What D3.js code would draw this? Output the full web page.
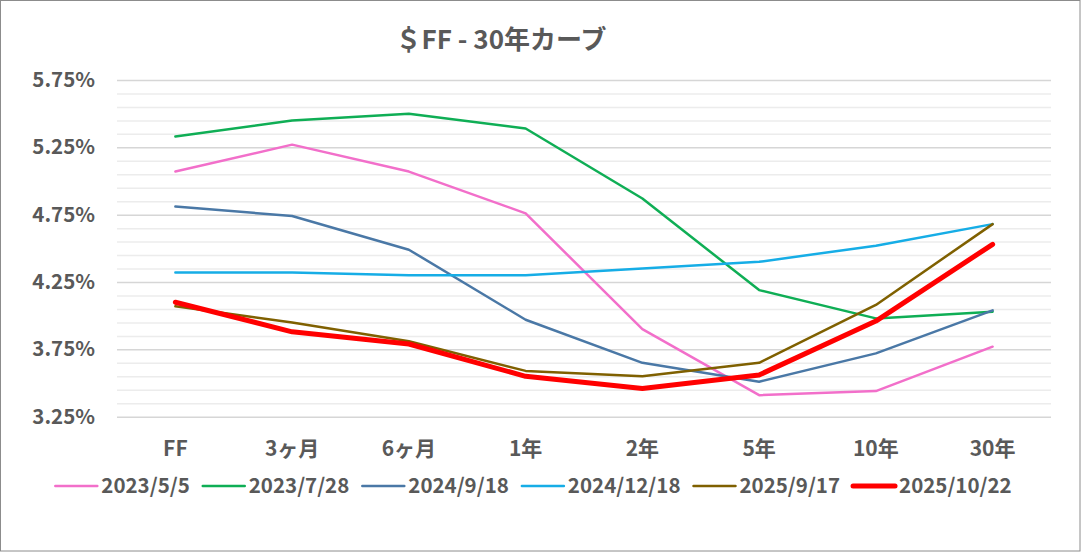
<!DOCTYPE html>
<html>
<head>
<meta charset="utf-8">
<script src="https://cdn.jsdelivr.net/npm/d3@7"></script>
<style>
  body { margin: 0; background: #fff; }
  text { font-family: "Noto Sans CJK JP", "Noto Sans", sans-serif; font-weight: bold; fill: #595959; }
</style>
</head>
<body>
<div id="chart"></div>
<script>
var categories = ["FF", "3ヶ月", "6ヶ月", "1年", "2年", "5年", "10年", "30年"];
var seriesNames = ["2023/5/5", "2023/7/28", "2024/9/18", "2024/12/18", "2025/9/17", "2025/10/22"];
var s20230505 = [5.07, 5.27, 5.07, 4.76, 3.90, 3.41, 3.44, 3.77];
var s20230728 = [5.33, 5.45, 5.50, 5.39, 4.87, 4.19, 3.98, 4.03];
var s20240918 = [4.81, 4.74, 4.49, 3.97, 3.65, 3.51, 3.72, 4.04];
var s20241218 = [4.32, 4.32, 4.30, 4.30, 4.35, 4.40, 4.52, 4.68];
var s20250917 = [4.07, 3.95, 3.81, 3.59, 3.55, 3.65, 4.08, 4.68];
var s20251022 = [4.10, 3.88, 3.79, 3.55, 3.46, 3.56, 3.96, 4.53];
var yTicks = [3.25, 3.75, 4.25, 4.75, 5.25, 5.75];
var minorTicks = [3.35, 3.45, 3.55, 3.65, 3.85, 3.95, 4.05, 4.15, 4.35, 4.45, 4.55, 4.65,
                  4.85, 4.95, 5.05, 5.15, 5.35, 5.45, 5.55, 5.65];
var titleText = "＄FF - 30年カーブ";

var seriesValues = [s20230505, s20230728, s20240918, s20241218, s20250917, s20251022];
var colors = ["#f26fca", "#0fae55", "#4a78a6", "#16ade6", "#7f6000", "#ff0000"];
var widths = [2.5, 2.5, 2.5, 2.5, 2.5, 5];

var W = 1081, H = 552;
var plot = {left: 117, right: 1051, top: 80, bottom: 416.7};

var svg = d3.select("#chart")
            .append("svg")
            .attr("width", W)
            .attr("height", H);

// chart border
svg.append("rect")
   .attr("x", 0.5).attr("y", 0.5)
   .attr("width", W - 1.5).attr("height", H - 1.5)
   .style("fill", "#fff")
   .style("stroke", "#8c8c8c")
   .style("stroke-width", 1);

var x = d3.scaleBand()
          .domain(categories)
          .range([plot.left, plot.right]);

var y = d3.scaleLinear()
          .domain([3.25, 5.75])
          .range([plot.bottom, plot.top]);

// minor gridlines first, major on top
svg.append("g")
   .attr("transform", "translate(" + plot.left + ",0)")
   .call(d3.axisLeft(y).tickValues(minorTicks).tickSize(-(plot.right - plot.left)).tickFormat(""))
   .call(function(g){
       g.select(".domain").remove();
       g.selectAll("line").style("stroke", "#ececec").style("stroke-width", 1.5);
   });

svg.append("g")
   .attr("transform", "translate(" + plot.left + ",0)")
   .call(d3.axisLeft(y).tickValues(yTicks).tickSize(-(plot.right - plot.left))
           .tickPadding(22).tickFormat(function(d){ return d.toFixed(2) + "%"; }))
   .call(function(g){
       g.select(".domain").remove();
       g.selectAll("line").style("stroke", "#d6d6d6").style("stroke-width", 1.5);
       g.selectAll("text").style("font-size", "20.5px").style("fill", "#595959");
   });

svg.append("g")
   .attr("transform", "translate(0," + plot.bottom + ")")
   .call(d3.axisBottom(x).tickSize(0).tickPadding(24))
   .call(function(g){
       g.select(".domain").remove();
       g.selectAll("text").style("font-size", "21px").style("fill", "#595959");
   });

var line = d3.line()
             .x(function(d, i){ return x(categories[i]) + x.bandwidth() / 2; })
             .y(function(d){ return y(d); });

svg.append("g")
   .selectAll("path")
   .data(seriesValues)
   .enter()
   .append("path")
   .attr("d", line)
   .style("fill", "none")
   .style("stroke", function(d, i){ return colors[i]; })
   .style("stroke-width", function(d, i){ return widths[i]; })
   .style("stroke-linejoin", "round")
   .style("stroke-linecap", "round");

// title
svg.append("text")
   .attr("x", 501)
   .attr("y", 49)
   .attr("text-anchor", "middle")
   .style("font-size", "26px")
   .text(titleText);

// legend, laid out from measured text widths and centred
var legend = svg.append("g");
var items = legend.selectAll("g")
                  .data(seriesNames)
                  .enter()
                  .append("g");
items.append("line")
     .attr("x1", 0).attr("x2", 42)
     .attr("y1", 0).attr("y2", 0)
     .style("stroke", function(d, i){ return colors[i]; })
     .style("stroke-width", function(d, i){ return widths[i]; })
     .style("stroke-linecap", "round");
items.append("text")
     .attr("x", 46)
     .attr("y", 7)
     .style("font-size", "20.5px")
     .text(function(d){ return d; });

var pos = 0;
items.each(function(){
    var g = d3.select(this);
    var tw = g.select("text").node().getComputedTextLength();
    g.attr("transform", "translate(" + pos + ",0)");
    pos += 46 + tw + 13;
});
pos -= 13;
legend.attr("transform", "translate(" + (533.5 - pos / 2) + ",486)");
</script>
</body>
</html>
